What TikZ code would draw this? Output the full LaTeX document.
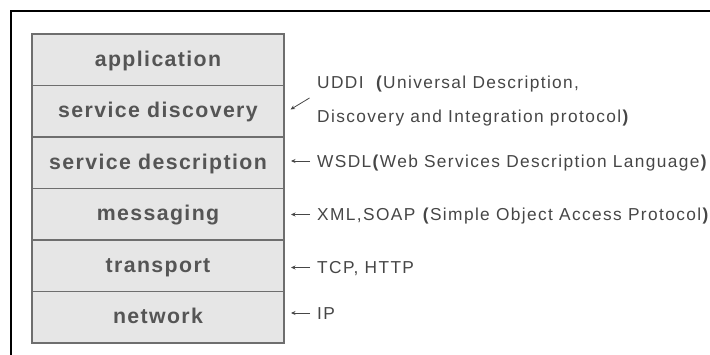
\documentclass[tikz,border=0pt]{standalone}
\usepackage{fontspec}
\setmainfont{Liberation Sans}
\newfontfamily\layerfont[LetterSpace=6.5]{Liberation Sans}
\newfontfamily\notefont[LetterSpace=8]{Liberation Sans}
\usetikzlibrary{arrows.meta}
\definecolor{layerfill}{HTML}{E6E6E6}
\definecolor{layerline}{HTML}{6E6E6E}
\definecolor{layertext}{HTML}{555555}
\definecolor{notetext}{HTML}{464646}
\newcommand{\bp}[1]{\textbf{#1}}
\tikzset{
  layer/.style={draw=layerline, fill=layerfill, line width=1.3pt,
    minimum width=252pt, minimum height=51.5pt, inner sep=0pt, outer sep=0pt},
  layerlabel/.style={anchor=base, inner sep=0pt, text=layertext,
    font=\layerfont\bfseries\fontsize{21.3}{25}\selectfont},
  note/.style={anchor=west, inner sep=0pt, text=notetext,
    text height=12.4pt, text depth=0pt,
    font=\notefont\fontsize{17.3}{20}\selectfont},
  ptr/.style={draw=notetext, line width=0.8pt, -{Stealth[length=4.5pt,width=4pt]}},
}
\begin{document}
\begin{tikzpicture}[x=1pt, y=-1pt]
\useasboundingbox (0,0) rectangle (710,355);
% outer frame (top and left edges)
\draw[line width=2pt, black] (11,356) -- (11,11) -- (711,11);

% protocol stack
\node[layer] (app)  at (158, 59.75) {};
\node[layer] (disc) at (158,111.25) {};
\node[layer] (desc) at (158,162.75) {};
\node[layer] (msg)  at (158,214.25) {};
\node[layer] (trn)  at (158,265.75) {};
\node[layer] (net)  at (158,317.25) {};

\node[layerlabel] (appT)  at (158, 66.5) {application};
\node[layerlabel] (discT) at (158,118.0) {service discovery};
\node[layerlabel] (descT) at (158,170.0) {service description};
\node[layerlabel] (msgT)  at (158,221.0) {messaging};
\node[layerlabel] (trnT)  at (158,272.5) {transport};
\node[layerlabel] (netT)  at (158,324.0) {network};

% technology notes
\node[note] (uddiA) at (317, 82.5) {UDDI\ \ \bp{(}Universal Description,};
\node[note] (uddiB) at (317,116.0) {Discovery and Integration protocol\bp{)}};
\node[note] (wsdl)  at (317,161.0) {WSDL\bp{(}Web Services Description Language\bp{)}};
\node[note] (soap)  at (317,214.5) {XML,SOAP \bp{(}Simple Object Access Protocol\bp{)}};
\node[note] (tcp)   at (317,267.5) {TCP, HTTP};
\node[note] (ip)    at (317,313.0) {IP};

% pointers towards the stack
\coordinate (uddiTail) at (309.5, 98.0);
\coordinate (uddiTip)  at (290.5,109.5);
\coordinate (wsdlTip)  at (291,161.0);
\coordinate (soapTip)  at (291,214.5);
\coordinate (tcpTip)   at (291,267.5);
\coordinate (ipTip)    at (291,313.0);

\draw[ptr] (uddiTail) -- (uddiTip);
\draw[ptr] ([xshift=-7pt]wsdl.west) -- (wsdlTip);
\draw[ptr] ([xshift=-7pt]soap.west) -- (soapTip);
\draw[ptr] ([xshift=-7pt]tcp.west)  -- (tcpTip);
\draw[ptr] ([xshift=-7pt]ip.west)   -- (ipTip);
\end{tikzpicture}
\end{document}
